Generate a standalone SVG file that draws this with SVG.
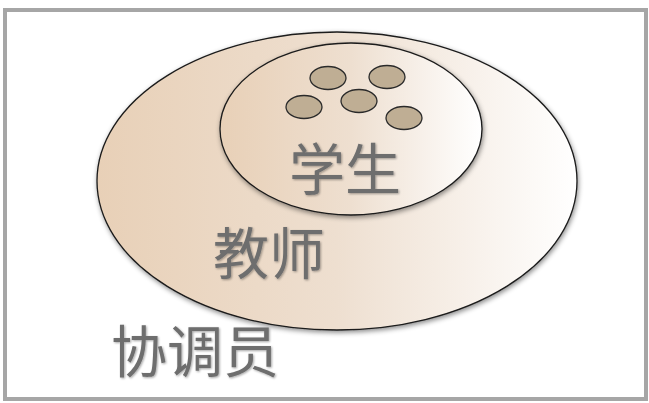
<svg xmlns="http://www.w3.org/2000/svg" width="649" height="403" viewBox="0 0 649 403">
<defs>
<linearGradient id="g" x1="0" y1="0" x2="1" y2="0">
<stop offset="0" stop-color="#e8d0b7"/>
<stop offset="0.5" stop-color="#eedfd0"/>
<stop offset="1" stop-color="#ffffff"/>
</linearGradient>
<filter id="sh" x="-10%" y="-10%" width="120%" height="125%">
<feDropShadow dx="1" dy="2" stdDeviation="2.5" flood-color="#000" flood-opacity="0.45"/>
</filter>
<filter id="ts" x="-10%" y="-10%" width="120%" height="120%">
<feDropShadow dx="1" dy="1" stdDeviation="0.8" flood-color="#000" flood-opacity="0.35"/>
</filter>
</defs>
<style>
.ell{fill:url(#g);stroke:#1a1a1a;stroke-width:1.3;filter:url(#sh)}
.dot{fill:#bfae94;stroke:#2a2a2a;stroke-width:1.3}
.lbl{font-family:"Noto Sans CJK SC","Noto Sans CJK TC",sans-serif;fill:#6e6e6e;font-size:56px;font-weight:400;filter:url(#ts)}
</style>
<rect x="0" y="0" width="649" height="403" fill="#fff"/>
<rect x="5" y="10" width="641" height="389" fill="none" stroke="#a6a6a6" stroke-width="4"/>
<g id="coordinator">
<ellipse class="ell" cx="337" cy="181" rx="240" ry="149"/>
<text class="lbl" x="111" y="372">协调员</text>
</g>
<g id="teacher">
<ellipse class="ell" cx="351" cy="129" rx="131" ry="86"/>
<text class="lbl" x="213" y="274">教师</text>
</g>
<g id="student">
<ellipse class="dot" cx="328" cy="78" rx="18" ry="11.5"/>
<ellipse class="dot" cx="387" cy="77" rx="18" ry="11.5"/>
<ellipse class="dot" cx="304" cy="107" rx="18" ry="11.5"/>
<ellipse class="dot" cx="359" cy="101" rx="18" ry="11.5"/>
<ellipse class="dot" cx="404" cy="118" rx="18" ry="11.5"/>
<text class="lbl" x="289" y="190">学生</text>
</g>
<g id="connectors"></g>
</svg>
